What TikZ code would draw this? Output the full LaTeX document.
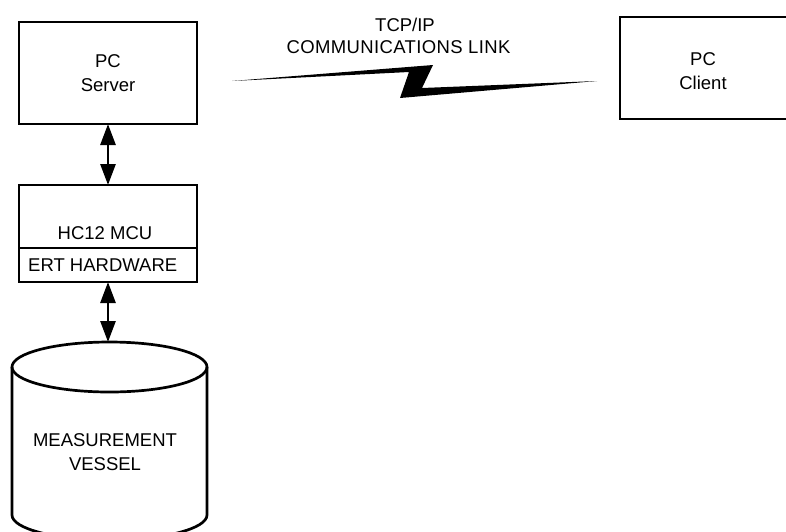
\documentclass[tikz,border=0pt]{standalone}
\usepackage{fontspec}
\setmainfont{Liberation Sans}
\usetikzlibrary{arrows.meta}
\begin{document}
\begin{tikzpicture}[x=1pt,y=-1pt,
  lbl/.style={inner sep=0pt, font=\fontsize{18.5}{24}\selectfont, align=center},
  box/.style={draw, line width=2.7pt, inner sep=0pt, outer sep=0pt, lbl},
  link/.style={line width=2.7pt,
    {Triangle[width=15pt,length=21pt]}-{Triangle[width=15pt,length=21pt]}},
  wall/.style={line width=2.7pt, line join=round}]
\useasboundingbox (0,0) rectangle (786,531);
\clip (0,0) rectangle (786,531);

% server, controller and interface hardware
\node[box, minimum width=178pt, minimum height=102pt] (server) at (108,73) {PC\\Server};
\node[box, minimum width=178pt, minimum height=63pt, anchor=north west] (mcu) at (19,185) {};
\node[lbl] (mculbl) at (105,233) {HC12 MCU};
\node[box, minimum width=178pt, minimum height=34pt, anchor=north west] (ert) at (19,248) {};
\node[lbl, anchor=west] (ertlbl) at (28,265) {ERT HARDWARE};

% remote client
\node[box, minimum width=180pt, minimum height=102pt, anchor=north west] (client) at (620,17) {};
\node[lbl] (clientlbl) at (703,71) {PC\\Client};

% measurement vessel (cylinder)
\draw[wall] (109.5,367) ellipse [x radius=97.5pt, y radius=25pt];
\draw[wall] (12,367) -- (12,515)
  arc[start angle=180, end angle=360, x radius=97.5pt, y radius=25pt] -- (207,367);
\coordinate (vesseltop) at (108,342);
\node[lbl] (vessellbl) at (105,452) {MEASUREMENT\\VESSEL};

% data links
\draw[link] (server.south -| 108,0) -- (mcu.north -| 108,0);
\draw[link] (ert.south -| 108,0) -- (vesseltop);

% network link
\node[lbl] (tcp) at (405,25) {TCP/IP};
\node[lbl] (comm) at (398.5,47) {\addfontfeature{LetterSpace=2}COMMUNICATIONS LINK};
\fill (232,81) -- (433,65) -- (422,88) -- (597,81) -- (400,98) -- (409,72) -- cycle;
\end{tikzpicture}
\end{document}
